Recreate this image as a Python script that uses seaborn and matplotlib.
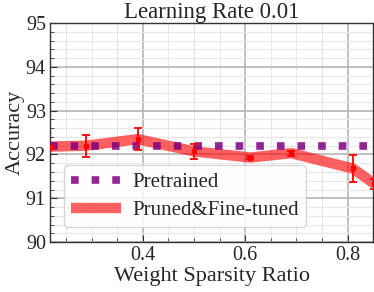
import numpy as np
import matplotlib
matplotlib.use("Agg")
import matplotlib.pyplot as plt
import seaborn as sns
from matplotlib.ticker import MultipleLocator

# data
sparsity = [0.22, 0.29, 0.39, 0.50, 0.61, 0.69, 0.81, 0.852]
acc_pruned = [92.18, 92.20, 92.35, 92.07, 91.93, 92.03, 91.68, 91.33]
acc_err = [0.0, 0.25, 0.25, 0.17, 0.04, 0.06, 0.30, 0.12]
acc_pretrained = 92.2

sns.set_style("whitegrid")
plt.rcParams['font.family'] = ['Liberation Serif', 'DejaVu Serif']
plt.rcParams['mathtext.fontset'] = 'stix'

fig, ax = plt.subplots(figsize=(3.74, 2.92), dpi=100)

ax.axhline(acc_pretrained, color='purple', alpha=0.85, linestyle=(0, (1, 1.7)),
           linewidth=5.5, label='Pretrained', zorder=3)
sns.lineplot(x=sparsity, y=acc_pruned, ax=ax, color='red', alpha=0.62, linewidth=7.5,
             label='Pruned&Fine-tuned', zorder=2, solid_capstyle='butt',
             solid_joinstyle='miter')
ax.errorbar(sparsity, acc_pruned, yerr=acc_err, fmt='s', color='red', markersize=3,
            elinewidth=1.3, capsize=3, capthick=1.3, zorder=4)

ax.set_xlim(0.219, 0.85)
ax.set_ylim(90, 95)
ax.xaxis.set_major_locator(MultipleLocator(0.2))
ax.xaxis.set_minor_locator(MultipleLocator(0.05))
ax.yaxis.set_major_locator(MultipleLocator(1))
ax.yaxis.set_minor_locator(MultipleLocator(0.2))
ax.grid(which='major', color='#b5b5b5', linewidth=1.2, linestyle='-')
ax.grid(which='minor', color='#e8e8e8', linewidth=0.8, linestyle='-')
ax.tick_params(which='both', left=True, bottom=True, direction='in', color='#333333')
ax.tick_params(which='major', length=5, labelsize=14.5, pad=3)
ax.tick_params(which='minor', length=3)
for s in ax.spines.values():
    s.set_color('#333333')
    s.set_linewidth(1)

ax.set_title('Learning Rate 0.01', fontsize=16.5, pad=3)
ax.set_xlabel('Weight Sparsity Ratio', fontsize=16, labelpad=1)
ax.set_ylabel('Accuracy', fontsize=16, labelpad=1)

leg = ax.legend(loc='lower left', fontsize=15, handlelength=2.4, borderpad=0.35,
                handletextpad=0.55, labelspacing=0.4, bbox_to_anchor=(0.01, 0.02),
                frameon=True)
leg.get_frame().set_edgecolor('#cccccc')

fig.subplots_adjust(left=0.134, right=0.998, top=0.921, bottom=0.171)
fig.savefig('out.png', dpi=100)
